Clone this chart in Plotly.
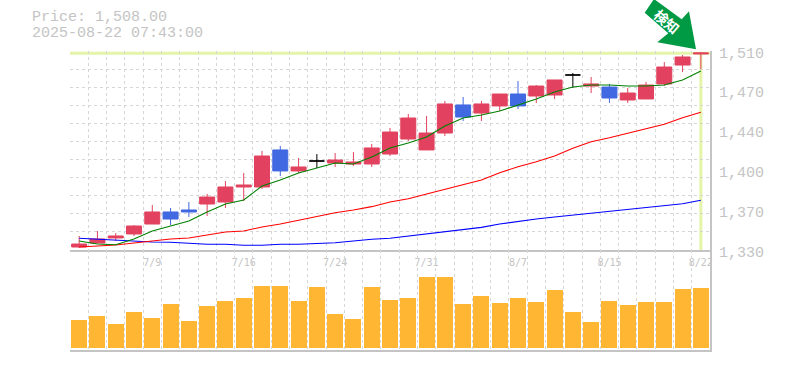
import plotly.graph_objects as go

dates = ["7/3","7/4","7/7","7/8","7/9","7/10","7/11","7/14","7/15","7/16","7/17","7/18","7/22","7/23","7/24","7/25","7/28","7/29","7/30","7/31",
         "8/1","8/4","8/5","8/6","8/7","8/8","8/12","8/13","8/14","8/15","8/18","8/19","8/20","8/21","8/22"]
open_ = [1332.7,1336.3,1340.9,1344.5,1353.5,1364.4,1366.2,1371.6,1373.4,1387,1387,1420.5,1401.5,1410.5,1408.7,1407.8,1407.8,1416.8,1430.4,1420.5,
         1435.8,1461.2,1453.9,1460.3,1471.1,1469.3,1470.2,1488.3,1478.3,1477.4,1465.7,1466.6,1480.2,1497.3,1507.3]
high = [1342.7,1347.2,1345.4,1352.6,1370.7,1368,1373.4,1380.7,1392.4,1399.7,1419.6,1424.1,1413.2,1416.8,1417.7,1418.6,1425.9,1440.4,1453,1451.2,
        1464.8,1468.4,1464.8,1471.1,1482.9,1479.2,1483.8,1490.1,1486.5,1480.2,1476.5,1482,1500,1506.4,1509.1]
low = [1331.8,1336.3,1338.1,1342.7,1353.5,1352.6,1359.9,1360.8,1368,1374.3,1385.2,1397,1399.7,1404.2,1405.1,1406,1405.1,1415,1428.6,1425,
       1433.1,1446.7,1446.7,1455.7,1457.5,1463,1466.6,1476.5,1472,1463,1463,1466.6,1478.3,1491,1493.7]
close = [1335.4,1340,1342.7,1351.7,1364.4,1358,1364.4,1377.9,1387,1388.8,1415,1401.5,1405.1,1410.5,1411.4,1409.6,1422.3,1436.7,1449.4,1435.8,
         1462.1,1450.3,1462.1,1471.1,1460.3,1478.3,1483.8,1488.3,1480.2,1467.5,1472,1479.2,1495.5,1504.6,1508.2]
ma_short = [1338.1,1335.4,1334.8,1340,1347.2,1351.7,1356.2,1364.4,1371.6,1375.2,1387.9,1393.3,1399.7,1404.2,1408.7,1407.8,1414.1,1422.3,1426.8,1432.2,
            1442.2,1449.4,1452.1,1455.7,1461.2,1466.6,1472.9,1477.4,1479.2,1479.2,1478.3,1478.3,1479.2,1483.8,1491.9]
ma_mid = [1332.7,1333.6,1334.5,1336.3,1338.1,1340,1340.9,1343.6,1346.3,1347.2,1350.8,1353.5,1357.1,1360.1,1363.7,1366.2,1369.2,1373.4,1376.4,1380.7,
          1384.9,1388.8,1393.3,1399.9,1405.3,1409.9,1415,1422,1428,1431.6,1435.6,1440.1,1443.7,1449.7,1454.6]
ma_long = [1340.6,1339.7,1338.8,1338.1,1337.2,1337,1336.1,1335.2,1335.2,1334.3,1334.3,1335.2,1335.2,1335.7,1336.6,1338.1,1339.7,1340.6,1342.7,1344.5,
           1346.9,1349,1350.5,1353.5,1355.9,1358,1359.9,1361.7,1363.5,1365,1366.8,1368.6,1370.1,1371.9,1375]
volume = [85,97,73,109,91,133,82,127,142,151,187,187,142,184,103,88,184,145,151,214,214,133,157,136,151,139,175,109,79,142,130,139,139,178,181]
x_tick_idx = [4, 9, 14, 19, 24, 29, 34]
y_ticks = [1330, 1366, 1402, 1438, 1474, 1510]
y_labels = ["1,330", "1,370", "1,400", "1,440", "1,470", "1,510"]
last_price = 1508
price_line = "Price: 1,508.00"
time_line = "2025-08-22 07:43:00"
badge_text = "検知"

W, H = 785, 370
L, R, T, B = 70, 710, 51, 350
MID = 250
GRID = "#d6d6d6"
AXIS = "#c4c4c4"
TXT = "#c4c4c4"
RED = "#e2425f"
BLUE = "#4169e1"
DASH = "3px,3px"
xs = list(range(len(dates)))


def subset(values, test):
    return [v if test(i) else None for i, v in enumerate(values)]


def candle(test, color, name):
    return go.Candlestick(
        x=xs, open=subset(open_, test), high=subset(high, test), low=subset(low, test), close=subset(close, test),
        increasing=dict(line=dict(color=color, width=1), fillcolor=color),
        decreasing=dict(line=dict(color=color, width=1), fillcolor=color),
        whiskerwidth=0, name=name, showlegend=False, hoverinfo="skip", xaxis="x", yaxis="y")


fig = go.Figure()
for vals, col in [(ma_long, "#0000ff"), (ma_mid, "#ff0000"), (ma_short, "#008000")]:
    fig.add_trace(go.Scatter(x=xs, y=vals, mode="lines", line=dict(color=col, width=1.1), showlegend=False, hoverinfo="skip"))
fig.add_trace(candle(lambda i: close[i] > open_[i], RED, "up"))
fig.add_trace(candle(lambda i: close[i] < open_[i], BLUE, "down"))
fig.add_trace(candle(lambda i: close[i] == open_[i], "#000000", "flat"))
fig.add_trace(go.Bar(x=xs, y=volume, width=0.875, marker=dict(color="#ffb733", line=dict(width=0)), xaxis="x2", yaxis="y2", showlegend=False, hoverinfo="skip"))

minor_x = dict(tick0=-0.5, dtick=1, showgrid=True, gridcolor=GRID, griddash=DASH, gridwidth=1, ticks="")
xrange_ = [-0.5, len(dates) - 0.5]
fig.update_layout(
    width=W, height=H, autosize=False, paper_bgcolor="white", plot_bgcolor="white",
    margin=dict(l=L, r=W - R, t=T, b=H - B), bargap=0, boxgap=0.18, boxgroupgap=0, boxmode="overlay",
    font=dict(family="Liberation Mono", color=TXT),
    xaxis=dict(domain=[0, 1], anchor="y", range=xrange_, rangeslider=dict(visible=False), tickmode="array",
               tickvals=x_tick_idx, ticktext=[dates[i] for i in x_tick_idx], showgrid=False, ticks="", zeroline=False,
               showline=True, linecolor=AXIS, linewidth=2, ticklabelstandoff=2,
               tickfont=dict(family="DejaVu Sans Mono", size=10, color=TXT), minor=minor_x),
    xaxis2=dict(domain=[0, 1], anchor="y2", range=xrange_, showticklabels=False, showgrid=False, ticks="", zeroline=False,
                showline=True, linecolor=AXIS, linewidth=2, minor=minor_x),
    yaxis=dict(domain=[(B - MID) / (B - T), 1], anchor="x", side="right", range=[1330, 1510], tickmode="array", tickvals=y_ticks,
               showticklabels=False, showgrid=False, ticks="", zeroline=False, showline=True, linecolor=AXIS, linewidth=2,
               minor=dict(tick0=1330, dtick=180 / 11, showgrid=True, gridcolor=GRID, griddash=DASH, gridwidth=1, ticks="")),
    yaxis2=dict(domain=[0, (B - MID) / (B - T)], anchor="x2", side="right", range=[-5, 295], showticklabels=False, showgrid=False,
                ticks="", zeroline=False, showline=True, linecolor=AXIS, linewidth=2),
)

# Price labels sit a little below their level in the reference
for value, label in zip(y_ticks, y_labels):
    fig.add_annotation(text=label, xref="paper", yref="y", x=1, y=value, xanchor="left", yanchor="middle", xshift=7, yshift=-3,
                       showarrow=False, font=dict(family="Liberation Mono", size=15, color=TXT))

# Current-price crosshair
fig.add_shape(type="line", xref="paper", yref="y", x0=0, x1=1, y0=last_price, y1=last_price, line=dict(color="#e4f4a8", width=3), layer="below")
fig.add_shape(type="line", xref="x", yref="y", x0=xs[-1], x1=xs[-1], y0=1330, y1=last_price, line=dict(color="#e4f4a8", width=3), layer="below")

# Header text
for text, py in [(price_line, 17), (time_line, 33)]:
    fig.add_annotation(text=text, xref="paper", yref="paper", x=(30 - L) / (R - L), y=(B - py) / (B - T), xanchor="left", yanchor="middle",
                       showarrow=False, font=dict(family="Liberation Mono", size=15, color=TXT))

# Badge arrow (page-pixel outline converted to paper coordinates)
outline = [(644.7, 12.7), (654, -1), (681.7, 19.3), (689, 11.3), (696, 49.3), (657.3, 42.3), (668.3, 33.3)]
path = "M " + " L ".join(f"{(px - L) / (R - L):.5f},{(B - py) / (B - T):.5f}" for px, py in outline) + " Z"
fig.add_shape(type="path", xref="paper", yref="paper", path=path, fillcolor="#009944", line=dict(width=0), layer="below")
fig.add_annotation(text=f"<b>{badge_text}</b>", xref="paper", yref="paper", x=(666.5 - L) / (R - L), y=(B - 21) / (B - T), textangle=41, showarrow=False,
                   xanchor="center", yanchor="middle", font=dict(family="Noto Sans CJK JP", size=14, color="#ffffff"))

fig.write_html("out.html", config=dict(displayModeBar=False), post_script="document.body.style.margin='0';")
